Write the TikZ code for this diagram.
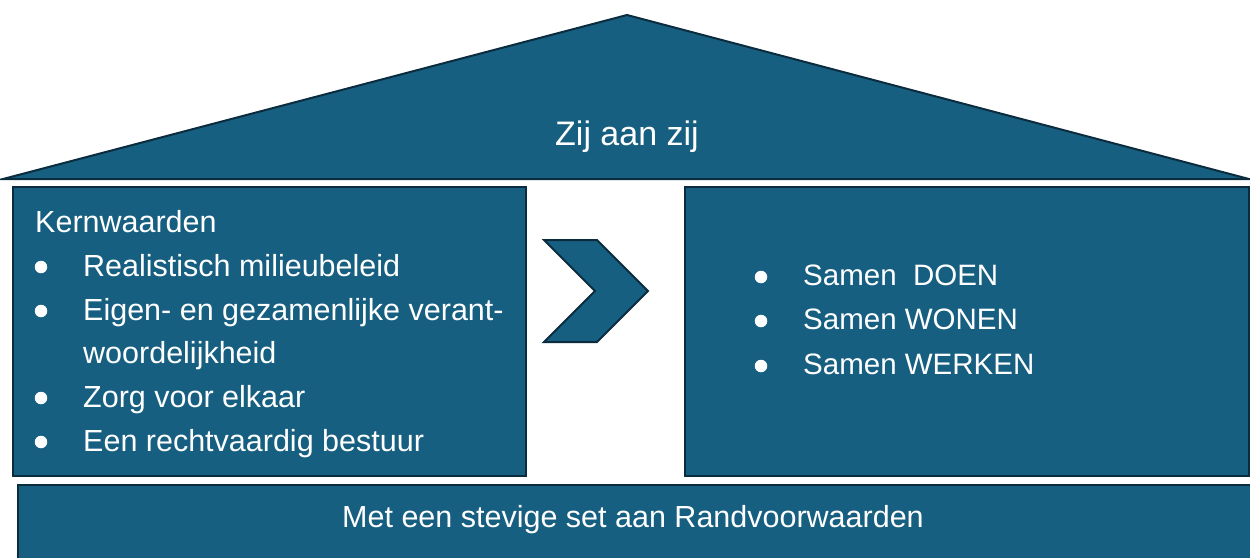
\documentclass[tikz,border=0pt]{standalone}
\usepackage{fontspec}
\setmainfont{Liberation Sans}
\definecolor{boxfill}{HTML}{175F81}
\definecolor{boxline}{HTML}{0B2C3E}
\tikzset{
  part/.style={fill=boxfill, draw=boxline, line width=2pt, line join=miter},
  txt/.style={text=white, inner sep=0pt, font=\fontsize{30.5}{36}\selectfont},
  rtxt/.style={txt, font=\fontsize{29.5}{36}\selectfont},
  bul/.style={fill=white, draw=none, circle, inner sep=0pt, minimum size=12.5pt},
}
\begin{document}
\begin{tikzpicture}[x=1pt, y=-1pt]
\useasboundingbox (0,0) rectangle (1250,557);
\begin{scope}
\clip (0,0) rectangle (1250,557);
% roof
\coordinate (apex) at (627,15);
\coordinate (rl) at (3,179);
\coordinate (rr) at (1249,179);
\path[part] (rl) -- (apex) -- (rr) -- cycle;
\node[txt, font=\fontsize{34}{40}\selectfont, anchor=base] (title) at (627,145) {Zij aan zij};
% left box
\path[part] (13,187) rectangle (526,476);
\coordinate (lbox) at (13,187);
% right box
\path[part] (685,187) rectangle (1249,476);
\coordinate (rbox) at (685,187);
% bottom box
\path[part] (18,485) rectangle (1262,570);
\node[txt, anchor=base] (base) at (633,527) {Met een stevige set aan Randvoorwaarden};
% chevron
\path[part] (544,240) -- (597,240) -- (648,291) -- (597,342) -- (544,342) -- (595,291) -- cycle;
\coordinate (chev) at (597,291);
% left text
\node[txt, anchor=base west] (kern) at (35,232) {Kernwaarden};
\node[bul] (b1) at (41,267) {};
\node[txt, anchor=base west] (t1) at (83,276) {Realistisch milieubeleid};
\node[bul] (b2) at (41,311) {};
\node[txt, anchor=base west] (t2) at (83,320) {Eigen- en gezamenlijke verant-};
\node[txt, anchor=base west] (t2b) at (83,363) {woordelijkheid};
\node[bul] (b3) at (41,398) {};
\node[txt, anchor=base west] (t3) at (83,407) {Zorg voor elkaar};
\node[bul] (b4) at (41,442) {};
\node[txt, anchor=base west] (t4) at (83,451) {Een rechtvaardig bestuur};
% right text
\node[bul] (r1) at (761,277) {};
\node[rtxt, anchor=base west] (s1) at (803,285) {Samen\ \ DOEN};
\node[bul] (r2) at (761,321) {};
\node[rtxt, anchor=base west] (s2) at (803,329) {Samen WONEN};
\node[bul] (r3) at (761,366) {};
\node[rtxt, anchor=base west] (s3) at (803,374) {Samen WERKEN};
\end{scope}
\end{tikzpicture}
\end{document}
